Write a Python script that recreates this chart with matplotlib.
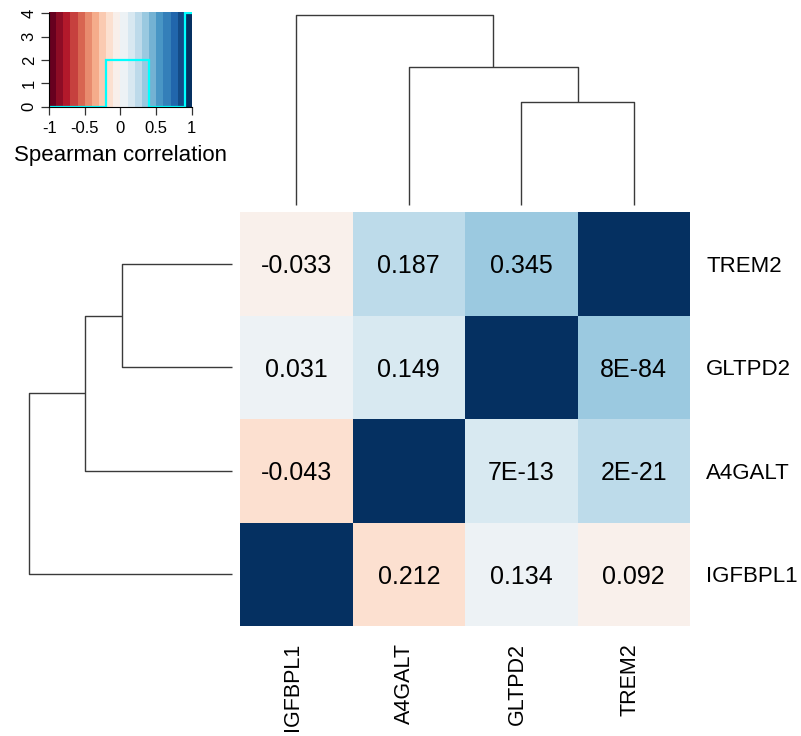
import numpy as np
import matplotlib
matplotlib.use("Agg")
import matplotlib.pyplot as plt
from matplotlib.colors import ListedColormap, BoundaryNorm

plt.rcParams['font.family'] = ['Liberation Sans', 'DejaVu Sans']
plt.rcParams['axes.unicode_minus'] = False

# heatmap order (columns left->right, rows top->bottom)
col_genes = ["IGFBPL1", "A4GALT", "GLTPD2", "TREM2"]
row_genes = ["TREM2", "GLTPD2", "A4GALT", "IGFBPL1"]

# colour values (0.1 wide bins)
rho = np.array([
    [-0.05, 0.25, 0.35, 1.00],
    [0.05, 0.15, 1.00, 0.35],
    [-0.15, 1.00, 0.15, 0.25],
    [1.00, -0.15, 0.05, -0.05],
])

# text printed in the cells
cell_notes = [
    ["-0.033", "0.187", "0.345", ""],
    ["0.031", "0.149", "", "8E-84"],
    ["-0.043", "", "7E-13", "2E-21"],
    ["", "0.212", "0.134", "0.092"],
]

# dendrograms: leaves numbered by display position, new nodes 4, 5, 6
col_merges = [(2, 3), (1, 4), (0, 5)]
row_merges = [(0, 1), (2, 4), (3, 5)]
merge_heights = [0.543, 0.725, 1.0]

# colour key histogram
hist_edges = [-1, -0.2, 0.4, 0.9, 1]
hist_counts = [0, 2, 0, 4]

breaks = np.linspace(-1, 1, 21)
cmap = ListedColormap(plt.cm.RdBu(np.linspace(0, 1, 20)))
norm = BoundaryNorm(breaks, cmap.N)

W, H = 801, 736
fig = plt.figure(figsize=(W / 100, H / 100), dpi=100)


def box(x0, y0, x1, y1):
    # axes from pixel box (top-left origin)
    return fig.add_axes([x0 / W, 1 - y1 / H, (x1 - x0) / W, (y1 - y0) / H])


def dendro_segments(merges, heights, n):
    pos = {i: i + 0.5 for i in range(n)}
    hgt = {i: 0.0 for i in range(n)}
    segs = []
    for k, (a, b) in enumerate(merges):
        h = heights[k]
        segs.append([(pos[a], hgt[a]), (pos[a], h), (pos[b], h), (pos[b], hgt[b])])
        node = n + k
        pos[node] = (pos[a] + pos[b]) / 2
        hgt[node] = h
    return segs


line_kw = dict(color="#3a3a3a", lw=1.0, solid_capstyle="butt", clip_on=False)

# heatmap
ax = box(240, 212, 690, 626)
ax.pcolormesh(np.arange(5), np.arange(5), rho, cmap=cmap, norm=norm)
ax.set_xlim(0, 4)
ax.set_ylim(4, 0)
ax.axis("off")
for i in range(4):
    for j in range(4):
        if cell_notes[i][j]:
            ax.text(j + 0.5, i + 0.5, cell_notes[i][j], ha="center",
                    va="center_baseline", fontsize=18)
for i, g in enumerate(row_genes):
    ax.annotate(g, (4, i + 0.5), xytext=(16, -8), textcoords="offset pixels",
                ha="left", va="baseline", fontsize=16)
for j, g in enumerate(col_genes):
    ax.annotate(g, (j + 0.5, 4), xytext=(1.5, -17), textcoords="offset pixels",
                rotation=90, rotation_mode="anchor", ha="right", va="baseline",
                fontsize=15.5)

# column dendrogram
axc = box(240, 14.7, 690, 205)
for s in dendro_segments(col_merges, merge_heights, 4):
    xs, ys = zip(*s)
    axc.plot(xs, ys, **line_kw)
axc.set_xlim(0, 4)
axc.set_ylim(0, 1)
axc.axis("off")

# row dendrogram
axr = box(29.3, 212, 232.3, 626)
for s in dendro_segments(row_merges, merge_heights, 4):
    ys, xs = zip(*s)
    axr.plot(xs, ys, **line_kw)
axr.set_xlim(1, 0)
axr.set_ylim(4, 0)
axr.axis("off")

# colour key
axk = box(49.3, 11.7, 191.7, 106.7)
axk.imshow(((breaks[:-1] + breaks[1:]) / 2)[None, :], cmap=cmap, norm=norm,
           extent=(-1, 1, 0, 4.07), aspect="auto", interpolation="nearest")
axk.stairs(hist_counts, hist_edges, baseline=None, color="#00ffff", lw=1.6)
axk.set_xlim(-1, 1)
axk.set_ylim(0, 4.07)
axk.set_xticks([-1, -0.5, 0, 0.5, 1])
axk.set_xticklabels(["-1", "-0.5", "0", "0.5", "1"])
axk.set_yticks([0, 1, 2, 3, 4])
axk.tick_params(axis="both", length=6, width=0.9, labelsize=12, pad=4,
                color="#333333")
axk.tick_params(axis="y", labelrotation=90, pad=3)
for lab in axk.get_yticklabels():
    lab.set_va("center")
axk.spines["top"].set_visible(False)
axk.spines["right"].set_visible(False)
axk.spines["bottom"].set_bounds(-1, 1)
axk.spines["left"].set_bounds(0, 4)
axk.set_xlabel("Spearman correlation", fontsize=16, labelpad=7)

fig.savefig("out.png", dpi=100)
